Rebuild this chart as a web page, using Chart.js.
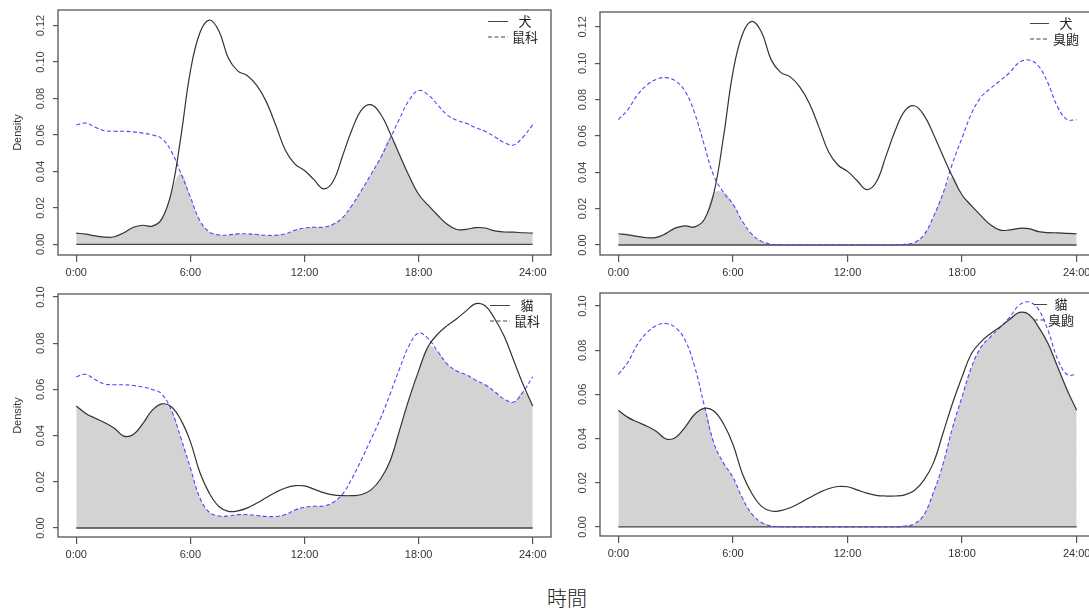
<!DOCTYPE html>
<html>
<head>
<meta charset="utf-8">
<script src="https://cdn.jsdelivr.net/npm/chart.js@4/dist/chart.umd.min.js"></script>
<style>
    html, body { margin: 0; padding: 0; background: #fff; width: 1089px; height: 610px; overflow: hidden; }
    canvas { position: absolute; }
    #titre { position: absolute; left: 467px; top: 585px; width: 200px; text-align: center;
             font: 300 20px "Noto Sans CJK TC", sans-serif; color: #222; line-height: 26px; }
</style>
</head>
<body>
<canvas id="haut_gauche" width="553" height="290" style="left:0;top:0"></canvas>
<canvas id="haut_droite" width="555" height="290" style="left:542px;top:0"></canvas>
<canvas id="bas_gauche" width="553" height="290" style="left:0;top:282px"></canvas>
<canvas id="bas_droite" width="555" height="290" style="left:542px;top:282px"></canvas>
<div id="titre">時間</div>
<script>
// Heures (axe x) et étiquettes
const heures = [0, 0.5, 1, 1.5, 2, 2.5, 3, 3.5, 4, 4.5, 5, 5.5, 6, 6.5, 7, 7.5, 8, 8.5, 9, 9.5,
    10, 10.5, 11, 11.5, 12, 12.5, 13, 13.5, 14, 14.5, 15, 15.5, 16, 16.5, 17, 17.5, 18, 18.5, 19, 19.5,
    20, 20.5, 21, 21.5, 22, 22.5, 23, 23.5, 24];
const heuresTicks = [0, 6, 12, 18, 24];
const heuresLabels = ['0:00', '6:00', '12:00', '18:00', '24:00'];

// Densités
const chien = [0.0062, 0.0056, 0.0047, 0.0040, 0.0042, 0.0064, 0.0094, 0.0105, 0.0100, 0.0140,
    0.0285, 0.0590, 0.0950, 0.1160, 0.1230, 0.1170, 0.1020, 0.0950, 0.0925, 0.0870,
    0.0780, 0.0650, 0.0515, 0.0440, 0.0405, 0.0355, 0.0305, 0.0345, 0.0485, 0.0630,
    0.0738, 0.0766, 0.0715, 0.0610, 0.0490, 0.0375, 0.0275, 0.0215, 0.0160, 0.0110,
    0.0082, 0.0083, 0.0092, 0.0090, 0.0074, 0.0068, 0.0067, 0.0064, 0.0062];
const chat = [0.0528, 0.0496, 0.0475, 0.0456, 0.0432, 0.0398, 0.0405, 0.0452, 0.0510, 0.0537,
    0.0525, 0.0468, 0.0374, 0.0240, 0.0150, 0.0093, 0.0072, 0.0074, 0.0087, 0.0108,
    0.0132, 0.0155, 0.0173, 0.0183, 0.0182, 0.0168, 0.0153, 0.0143, 0.0140, 0.0140,
    0.0145, 0.0165, 0.0212, 0.0290, 0.0424, 0.0560, 0.0680, 0.0786, 0.0839, 0.0876,
    0.0906, 0.0940, 0.0971, 0.0962, 0.0906, 0.0830, 0.0725, 0.0620, 0.0528];
const rongeurs = [0.0655, 0.0665, 0.0642, 0.0623, 0.0620, 0.0620, 0.0617, 0.0610, 0.0600, 0.0580,
    0.0510, 0.0390, 0.0260, 0.0130, 0.0068, 0.0052, 0.0052, 0.0058, 0.0058, 0.0054,
    0.0050, 0.0050, 0.0058, 0.0078, 0.0090, 0.0094, 0.0095, 0.0110, 0.0147, 0.0215,
    0.0297, 0.0385, 0.0475, 0.0580, 0.0690, 0.0790, 0.0844, 0.0820, 0.0765, 0.0710,
    0.0680, 0.0664, 0.0640, 0.0620, 0.0590, 0.0558, 0.0545, 0.0590, 0.0655];
const musaraigne = [0.0690, 0.0745, 0.0826, 0.0880, 0.0912, 0.0921, 0.0902, 0.0845, 0.0725, 0.0550,
    0.0380, 0.0290, 0.0225, 0.0130, 0.0058, 0.0020, 0.0005, 0.0001, 0, 0,
    0, 0, 0, 0, 0, 0, 0, 0, 0, 0,
    0.0004, 0.0014, 0.0055, 0.0156, 0.0284, 0.0450, 0.0590, 0.0725, 0.0815, 0.0862,
    0.0905, 0.0950, 0.1005, 0.1018, 0.0985, 0.0890, 0.0760, 0.0690, 0.0690];

const yTicksHaut = [0, 0.02, 0.04, 0.06, 0.08, 0.10, 0.12];
const yTicksBas = [0, 0.02, 0.04, 0.06, 0.08, 0.10];

const police = '"Liberation Sans", Arial, sans-serif';

// Plugin : cadre, étiquettes verticales de l'axe y, légende
const cadrePlugin = {
    id: 'cadre',
    afterDraw(chart, args, opts) {
        const ctx = chart.ctx;
        const a = chart.chartArea;
        const y = chart.scales.y;
        ctx.save();
        ctx.strokeStyle = '#555';
        ctx.lineWidth = 1.3;
        ctx.strokeRect(a.left, a.top, a.right - a.left, a.bottom - a.top);

        // étiquettes de l'axe y, tournées
        ctx.fillStyle = '#444';
        ctx.font = '11px ' + police;
        ctx.textAlign = 'center';
        ctx.textBaseline = 'middle';
        y.ticks.forEach(t => {
            ctx.save();
            ctx.translate(a.left - 17, y.getPixelForValue(t.value));
            ctx.rotate(-Math.PI / 2);
            ctx.fillText(t.value.toFixed(2), 0, 0);
            ctx.restore();
        });

        // légende
        const items = chart.data.datasets.filter(d => d.legende);
        items.forEach((d, i) => {
            const ly = a.top + 11.5 + i * 15.5;
            ctx.strokeStyle = '#444';
            ctx.lineWidth = 1;
            ctx.setLineDash(d.borderDash || []);
            ctx.beginPath();
            ctx.moveTo(a.right - opts.x1, ly);
            ctx.lineTo(a.right - opts.x2, ly);
            ctx.stroke();
            ctx.setLineDash([]);
            ctx.fillStyle = '#222';
            ctx.font = '13px "Noto Sans CJK TC", sans-serif';
            ctx.fillText(d.label, a.right - opts.xt, ly);
        });
        ctx.restore();
    }
};

function points(serie) {
    return heures.map((h, i) => ({ x: h, y: serie[i] }));
}

// Fonction pour créer un graphique de chevauchement
function faireChevauchement(canvasId, p) {
    const minimum = p.serie1.map((v, i) => Math.min(v, p.serie2[i]));
    const ctx = document.getElementById(canvasId).getContext('2d');
    new Chart(ctx, {
        type: 'line',
        data: {
            datasets: [
                { label: p.nom1, data: points(p.serie1), borderColor: '#333', borderWidth: 1.2,
                  tension: 0.4, legende: true, order: 0 },
                { label: p.nom2, data: points(p.serie2), borderColor: '#4747ff', borderWidth: 1.1,
                  borderDash: [4, 2.5], tension: 0.4, legende: true, order: 0 },
                { label: 'base', data: [{ x: heures[0], y: 0 }, { x: heures[heures.length - 1], y: 0 }],
                  borderColor: '#444', borderWidth: 1.3, order: 1 },
                { label: 'commun', data: points(minimum), borderWidth: 0, borderColor: 'rgba(0,0,0,0)',
                  backgroundColor: '#d3d3d3', fill: 'origin', tension: 0.4, order: 2 }
            ]
        },
        options: {
            responsive: false,
            animation: false,
            layout: { padding: { top: p.haut, right: 2, left: 0, bottom: 0 } },
            elements: { point: { radius: 0 } },
            plugins: {
                legend: { display: false },
                tooltip: { enabled: false },
                cadre: p.legende
            },
            scales: {
                x: {
                    type: 'linear', min: -0.96, max: 24.96,
                    afterBuildTicks: s => { s.ticks = heuresTicks.map(v => ({ value: v })); },
                    afterFit: s => { s.height = p.hx; },
                    ticks: { callback: v => heuresLabels[heuresTicks.indexOf(v)], color: '#333',
                             font: { size: 11, family: police }, padding: 4, maxRotation: 0, autoSkip: false },
                    grid: { drawOnChartArea: false, tickLength: 7, color: '#555', lineWidth: 1.2 },
                    border: { display: false }
                },
                y: {
                    type: 'linear', min: p.ymin, max: p.ymax,
                    afterBuildTicks: s => { s.ticks = p.yTicks.map(v => ({ value: v })); },
                    afterFit: s => { s.width = 58; },
                    ticks: { color: 'rgba(0,0,0,0)', font: { size: 11 } },
                    grid: { drawOnChartArea: false, tickLength: 5, color: '#555', lineWidth: 1.2 },
                    border: { display: false },
                    title: { display: p.titreY, text: 'Density', color: '#333',
                             font: { size: 11, family: police }, padding: { top: 11, bottom: 0 } }
                }
            }
        },
        plugins: [cadrePlugin]
    });
}

faireChevauchement('haut_gauche', { serie1: chien, serie2: rongeurs, nom1: '犬', nom2: '鼠科',
    haut: 10, hx: 35, ymin: -0.0058, ymax: 0.1285, yTicks: yTicksHaut, titreY: true,
    legende: { x1: 63, x2: 43, xt: 26 } });
faireChevauchement('haut_droite', { serie1: chien, serie2: musaraigne, nom1: '犬', nom2: '臭鼩',
    haut: 12, hx: 35, ymin: -0.0055, ymax: 0.1282, yTicks: yTicksHaut, titreY: false,
    legende: { x1: 65, x2: 46, xt: 29 } });
faireChevauchement('bas_gauche', { serie1: chat, serie2: rongeurs, nom1: '貓', nom2: '鼠科',
    haut: 12, hx: 35, ymin: -0.0039, ymax: 0.1013, yTicks: yTicksBas, titreY: true,
    legende: { x1: 61, x2: 41, xt: 24 } });
faireChevauchement('bas_droite', { serie1: chat, serie2: musaraigne, nom1: '貓', nom2: '臭鼩',
    haut: 11, hx: 36, ymin: -0.0041, ymax: 0.1059, yTicks: yTicksBas, titreY: false,
    legende: { x1: 61, x2: 48, xt: 34 } });
</script>
</body>
</html>
